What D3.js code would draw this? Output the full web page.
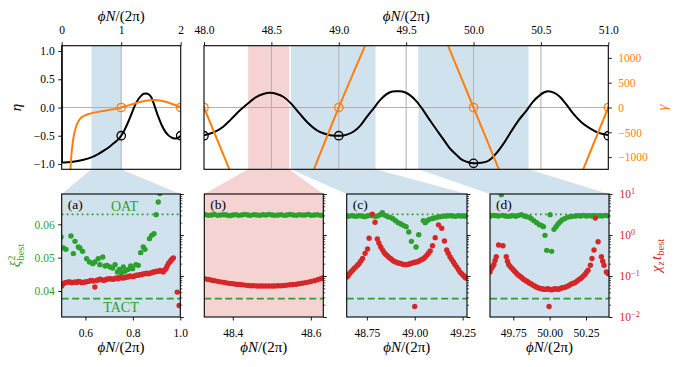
<!DOCTYPE html>
<html>
<head>
<meta charset="utf-8">
<script src="https://cdn.jsdelivr.net/npm/d3@7"></script>
<style>
  body { margin: 0; background: #fff; }
  svg { display: block; }
</style>
</head>
<body>
<div id="chart"></div>
<script>
/* ---------- data ---------- */
// upper row: eta (black) and gamma (orange) against phi N / (2 pi)
let etaLeft = [[0, 1.15], [0.004, -0.97], [0.02, -0.975], [0.1, -0.97], [0.218, -0.955], [0.35, -0.93],
    [0.498, -0.885], [0.62, -0.82], [0.72, -0.756], [0.81, -0.69], [0.89, -0.62], [0.95, -0.565],
    [1.0, -0.50], [1.06, -0.39], [1.114, -0.266], [1.17, -0.12], [1.227, 0.03], [1.29, 0.15],
    [1.338, 0.21], [1.38, 0.245], [1.422, 0.25], [1.46, 0.235], [1.506, 0.18], [1.56, 0.03],
    [1.618, -0.15], [1.68, -0.31], [1.73, -0.41], [1.79, -0.49], [1.842, -0.53], [1.9, -0.55],
    [1.95, -0.54], [2.0, -0.50]];
let gammaLeft = [[0.14, -1400], [0.16, -1000], [0.19, -670], [0.22, -480], [0.246, -369], [0.29, -260],
    [0.33, -201], [0.39, -160], [0.442, -135], [0.52, -108], [0.61, -88], [0.70, -70], [0.778, -54],
    [0.9, -28], [1.0, 0], [1.12, 42], [1.227, 80], [1.31, 110], [1.395, 133], [1.48, 147], [1.563, 153],
    [1.65, 142], [1.73, 120], [1.8, 95], [1.87, 66], [1.93, 38], [2.0, 0]];
let etaRight = [[48.0, -0.49], [48.07, -0.44], [48.143, -0.34], [48.2, -0.21], [48.267, -0.05], [48.33, 0.08],
    [48.39, 0.19], [48.44, 0.24], [48.49, 0.26], [48.54, 0.24], [48.588, 0.19], [48.65, 0.06],
    [48.71, -0.11], [48.77, -0.27], [48.835, -0.40], [48.89, -0.46], [48.935, -0.49], [49.01, -0.50],
    [49.06, -0.48], [49.108, -0.43], [49.16, -0.32], [49.207, -0.17], [49.26, -0.01], [49.306, 0.13],
    [49.345, 0.22], [49.38, 0.27], [49.42, 0.29], [49.454, 0.29], [49.49, 0.27], [49.528, 0.22],
    [49.58, 0.10], [49.627, -0.05], [49.68, -0.24], [49.739, -0.44], [49.775, -0.56], [49.83, -0.74],
    [49.874, -0.84], [49.91, -0.92], [49.949, -0.96], [50.003, -0.99], [50.05, -0.98], [50.097, -0.96],
    [50.135, -0.9], [50.17, -0.81], [50.22, -0.65], [50.27, -0.46], [50.33, -0.24], [50.394, -0.05],
    [50.44, 0.1], [50.493, 0.22], [50.525, 0.27], [50.555, 0.29], [50.6, 0.26], [50.64, 0.19],
    [50.69, 0.05], [50.74, -0.11], [50.8, -0.26], [50.864, -0.37], [50.92, -0.44], [50.962, -0.47],
    [51.0, -0.49]];
let gammaRight = [
    [[47.81, 1245], [48.0, 0], [48.188, -1245]],
    [[48.816, -1245], [49.0, 0], [49.194, 1237]],
    [[49.812, 1237], [50.0, 0], [50.188, -1245]],
    [[50.814, -1245], [51.0, 0], [51.19, 1245]]
];
let etaMarksLeft = [[1, -0.5], [2, -0.5]];
let etaMarksRight = [[48, -0.5], [49, -0.5], [50, -0.99], [51, -0.5]];
let gammaMarksLeft = [[1, 0], [2, 0]];
let gammaMarksRight = [[48, 0], [49, 0], [50, 0], [51, 0]];

// zoom windows of the lower row
let zoomA = [0.5, 1.0];
let zoomB = [48.327, 48.632];
let zoomC = [48.645, 49.273];
let zoomD = [49.59, 50.408];

// reference levels of xi^2
let xiOAT = 0.063;
let xiTACT = 0.0377;

// (a)
let aGreen = [[0.497, 0.0562], [0.507, 0.0529], [0.518, 0.0525], [0.539, 0.0565], [0.549, 0.0512], [0.556, 0.0549],
    [0.570, 0.0532], [0.577, 0.0529], [0.588, 0.0519], [0.605, 0.0497], [0.617, 0.0487], [0.631, 0.0482],
    [0.640, 0.0487], [0.654, 0.0497], [0.661, 0.0479], [0.673, 0.0502], [0.683, 0.0475], [0.692, 0.0477],
    [0.704, 0.0472], [0.715, 0.0469], [0.725, 0.0479], [0.735, 0.0457], [0.743, 0.0465], [0.753, 0.0455],
    [0.760, 0.0472], [0.767, 0.0459], [0.781, 0.0465], [0.791, 0.0475], [0.799, 0.0467], [0.813, 0.0479],
    [0.823, 0.0477], [0.833, 0.0515], [0.844, 0.0532], [0.851, 0.0525], [0.870, 0.0557], [0.879, 0.0567],
    [0.889, 0.0572], [0.898, 0.0629], [0.907, 0.0667], [0.914, 0.0692]];
let aRed = [[0.500, 0.0569], [0.507, 0.0650], [0.514, 0.0687], [0.521, 0.0700], [0.528, 0.0713], [0.535, 0.0720],
    [0.542, 0.0687], [0.549, 0.0700], [0.556, 0.0713], [0.563, 0.0690], [0.570, 0.0741], [0.577, 0.0730],
    [0.584, 0.0687], [0.591, 0.0700], [0.598, 0.0713], [0.605, 0.0720], [0.612, 0.0741], [0.619, 0.0760],
    [0.626, 0.0783], [0.633, 0.0750], [0.640, 0.0537], [0.647, 0.0783], [0.654, 0.0800], [0.661, 0.0830],
    [0.668, 0.0810], [0.676, 0.0783], [0.683, 0.0800], [0.690, 0.0830], [0.697, 0.0850], [0.704, 0.0861],
    [0.711, 0.0840], [0.718, 0.0830], [0.725, 0.0870], [0.732, 0.0895], [0.739, 0.0860], [0.746, 0.0929],
    [0.753, 0.0910], [0.760, 0.0895], [0.767, 0.0920], [0.774, 0.0946], [0.781, 0.0950], [0.788, 0.1000],
    [0.795, 0.0980], [0.802, 0.0964], [0.809, 0.1010], [0.816, 0.104], [0.823, 0.1040], [0.830, 0.108],
    [0.837, 0.1090], [0.844, 0.112], [0.851, 0.1140], [0.858, 0.117], [0.865, 0.1130], [0.872, 0.117],
    [0.879, 0.1200], [0.886, 0.126], [0.893, 0.1260], [0.900, 0.131], [0.907, 0.1300], [0.914, 0.136],
    [0.921, 0.1320], [0.928, 0.126], [0.934, 0.1400], [0.940, 0.152], [0.945, 0.1750], [0.950, 0.201],
    [0.956, 0.2200], [0.961, 0.243], [0.966, 0.2600], [0.971, 0.277], [0.987, 0.0405], [0.995, 0.019]];

// (b)
let bPhi = [48.330, 48.338, 48.346, 48.353, 48.361, 48.369, 48.377, 48.384, 48.392, 48.400,
    48.408, 48.415, 48.423, 48.431, 48.439, 48.446, 48.454, 48.462, 48.470, 48.477,
    48.485, 48.493, 48.501, 48.508, 48.516, 48.524, 48.532, 48.539, 48.547, 48.555,
    48.563, 48.570, 48.578, 48.586, 48.594, 48.601, 48.609, 48.617, 48.625, 48.632];
let bGreenXi = [0.0629, 0.0627, 0.0628, 0.0630, 0.0627, 0.0628, 0.0629, 0.0628, 0.0626, 0.0628,
    0.0629, 0.0627, 0.0628, 0.0630, 0.0628, 0.0627, 0.0629, 0.0628, 0.0627, 0.0629,
    0.0628, 0.0630, 0.0628, 0.0627, 0.0628, 0.0629, 0.0627, 0.0628, 0.0630, 0.0628,
    0.0627, 0.0629, 0.0628, 0.0628, 0.0630, 0.0627, 0.0628, 0.0629, 0.0627, 0.0628];
let bRedChi = [0.085, 0.082, 0.079, 0.077, 0.074, 0.072, 0.070, 0.068, 0.066, 0.065,
    0.063, 0.062, 0.061, 0.060, 0.059, 0.058, 0.058, 0.057, 0.057, 0.057,
    0.057, 0.057, 0.057, 0.057, 0.058, 0.058, 0.059, 0.060, 0.061, 0.062,
    0.063, 0.065, 0.067, 0.069, 0.071, 0.074, 0.077, 0.081, 0.086, 0.091];

// (c)
let cGreen = [[48.647, 0.0625], [48.655, 0.0624], [48.669, 0.0626], [48.683, 0.0625], [48.697, 0.0624],
    [48.710, 0.0626], [48.724, 0.0625], [48.738, 0.0623], [48.752, 0.0625], [48.766, 0.0627],
    [48.779, 0.0626], [48.793, 0.0624], [48.807, 0.0625], [48.821, 0.0629], [48.831, 0.0635],
    [48.845, 0.0627], [48.859, 0.0623], [48.872, 0.0621], [48.886, 0.0617], [48.900, 0.0611],
    [48.914, 0.0605], [48.928, 0.0601], [48.941, 0.0597], [48.955, 0.0593], [48.969, 0.0577],
    [48.983, 0.0549], [49.007, 0.0532], [49.021, 0.0569], [49.045, 0.0611], [49.055, 0.0605],
    [49.066, 0.0611], [49.076, 0.0615], [49.090, 0.0617], [49.103, 0.0619], [49.117, 0.0621],
    [49.131, 0.0623], [49.145, 0.0624], [49.159, 0.0625], [49.172, 0.0625], [49.186, 0.0626],
    [49.200, 0.0625], [49.214, 0.0624], [49.228, 0.0626], [49.241, 0.0625], [49.255, 0.0625],
    [49.266, 0.0625]];
let cRed = [[48.647, 0.0946], [48.653, 0.103], [48.659, 0.114], [48.667, 0.125], [48.676, 0.138],
    [48.684, 0.152], [48.693, 0.167], [48.702, 0.184], [48.710, 0.202], [48.719, 0.232], [48.728, 0.267],
    [48.741, 0.355], [48.754, 0.454], [48.762, 0.83], [48.779, 3.23], [48.793, 2.05], [48.805, 0.80],
    [48.813, 0.64], [48.822, 0.518], [48.831, 0.44], [48.840, 0.376], [48.848, 0.34], [48.857, 0.311],
    [48.865, 0.285], [48.874, 0.267], [48.883, 0.245], [48.891, 0.230], [48.900, 0.220], [48.909, 0.213],
    [48.917, 0.206], [48.926, 0.201], [48.935, 0.195], [48.943, 0.19], [48.952, 0.189], [48.960, 0.19],
    [48.969, 0.194], [48.978, 0.201], [48.986, 0.206], [48.995, 0.213], [49.003, 0.216], [49.012, 0.221],
    [49.021, 0.23], [49.029, 0.243], [49.038, 0.254], [49.047, 0.267], [49.055, 0.29], [49.064, 0.323],
    [49.072, 0.36], [49.081, 0.406], [49.093, 0.548], [49.107, 0.861], [49.124, 1.77], [49.141, 1.46],
    [49.155, 0.713], [49.167, 0.429], [49.175, 0.36], [49.184, 0.294], [49.193, 0.255], [49.202, 0.221],
    [49.210, 0.192], [49.219, 0.167], [49.228, 0.145], [49.236, 0.126], [49.245, 0.114], [49.253, 0.104],
    [49.260, 0.096], [49.266, 0.0895], [49.000, 0.018]];

// (d)
let dGreen = [[49.594, 0.0625], [49.613, 0.0627], [49.631, 0.0626], [49.649, 0.0625], [49.668, 0.0689],
    [49.677, 0.0627], [49.695, 0.0625], [49.714, 0.0624], [49.732, 0.0625], [49.750, 0.0626],
    [49.769, 0.0624], [49.787, 0.0627], [49.805, 0.0629], [49.824, 0.0625], [49.842, 0.0623],
    [49.860, 0.0621], [49.874, 0.0617], [49.892, 0.0611], [49.911, 0.0605], [49.929, 0.0599],
    [49.943, 0.0597], [49.957, 0.0593], [49.968, 0.0567], [49.980, 0.0522], [50.003, 0.0629],
    [50.014, 0.0519], [50.030, 0.0585], [50.044, 0.0593], [50.058, 0.0601], [50.071, 0.0607],
    [50.085, 0.0613], [50.103, 0.0617], [50.122, 0.0621], [50.140, 0.0623], [50.158, 0.0624],
    [50.177, 0.0625], [50.195, 0.0626], [50.213, 0.0625], [50.232, 0.0627], [50.250, 0.0625],
    [50.268, 0.0626], [50.287, 0.0625], [50.305, 0.0627], [50.324, 0.0625], [50.342, 0.0626],
    [50.360, 0.0625], [50.379, 0.0627], [50.397, 0.0626]];
let dRed = [[49.590, 0.126], [49.599, 0.152], [49.608, 0.17], [49.617, 0.19], [49.625, 0.24], [49.633, 0.294],
    [49.649, 0.569], [49.679, 0.548], [49.702, 0.294], [49.710, 0.23], [49.718, 0.19], [49.728, 0.172],
    [49.737, 0.158], [49.748, 0.144], [49.759, 0.131], [49.770, 0.119], [49.782, 0.108], [49.793, 0.1],
    [49.805, 0.0929], [49.816, 0.086], [49.828, 0.080], [49.840, 0.0755], [49.851, 0.0713], [49.862, 0.067],
    [49.874, 0.0637], [49.885, 0.06], [49.897, 0.0569], [49.908, 0.054], [49.920, 0.0518], [49.931, 0.050],
    [49.943, 0.0489], [49.955, 0.048], [49.966, 0.0471], [49.977, 0.0475], [49.989, 0.0489], [50.000, 0.047],
    [50.012, 0.0462], [50.023, 0.047], [50.035, 0.0489], [50.046, 0.048], [50.058, 0.0471], [50.069, 0.049],
    [50.080, 0.0508], [50.092, 0.0515], [50.103, 0.0527], [50.115, 0.055], [50.126, 0.0569], [50.137, 0.06],
    [50.149, 0.0637], [50.160, 0.066], [50.172, 0.0687], [50.183, 0.073], [50.195, 0.0783], [50.206, 0.084],
    [50.218, 0.0895], [50.229, 0.098], [50.241, 0.108], [50.252, 0.122], [50.264, 0.138], [50.280, 0.183],
    [50.291, 0.267], [50.305, 0.429], [50.333, 0.687], [50.356, 0.294], [50.365, 0.23], [50.374, 0.183],
    [50.390, 0.126], [50.402, 0.114], [50.314, 2.58], [49.996, 0.018]];

/* ---------- styling ---------- */
const SERIF = "'Liberation Serif', 'DejaVu Serif', serif";
const ORANGE = "#ff7f0e", GREEN = "#2ca02c", RED = "#d62728";
const BLUE_FILL = "rgb(209, 226, 239)", RED_FILL = "rgb(246, 211, 211)";
const GRID = "#b0b0b0";

let topY0 = 45.7, topY1 = 169.3;
let botY0 = 194, botY1 = 317;

let svg = d3.select("#chart")
    .append("svg")
    .attr("width", 679)
    .attr("height", 367)
    .attr("font-family", SERIF);
let defs = svg.append("defs");

/* Shared scales */
let etaY = d3.scaleLinear().domain([-1.095, 1.095]).range([topY1, topY0]);
let gammaY = d3.scaleLinear().domain([-1245, 1245]).range([topY1, topY0]);
let xiY = d3.scaleLinear().domain([0.0322, 0.0691]).range([botY1, botY0]);
let chiY = d3.scaleLog().domain([1e-2, 1e1]).range([botY1, botY0]);

let xTopLeft = d3.scaleLinear().domain([0, 2]).range([61.7, 180.7]);
let xTopRight = d3.scaleLinear().domain([48, 51]).range([204, 608.3]);

let lowerPanels = [
    { id: "a", label: "(a)", domain: zoomA, x0: 61.7, x1: 180.3, top: xTopLeft, fill: BLUE_FILL,
      ticks: [0.6, 0.8, 1.0], fmt: ".1f", green: aGreen, red: aRed, xiAxis: true, chiLabels: false },
    { id: "b", label: "(b)", domain: zoomB, x0: 204.3, x1: 323.3, top: xTopRight, fill: RED_FILL,
      ticks: [48.4, 48.6], fmt: ".1f", green: d3.zip(bPhi, bGreenXi), red: d3.zip(bPhi, bRedChi), xiAxis: false, chiLabels: false },
    { id: "c", label: "(c)", domain: zoomC, x0: 346.7, x1: 467, top: xTopRight, fill: BLUE_FILL,
      ticks: [48.75, 49.0, 49.25], fmt: ".2f", green: cGreen, red: cRed, xiAxis: false, chiLabels: false },
    { id: "d", label: "(d)", domain: zoomD, x0: 490, x1: 609, top: xTopRight, fill: BLUE_FILL,
      ticks: [49.75, 50.0, 50.25], fmt: ".2f", green: dGreen, red: dRed, xiAxis: false, chiLabels: true }
];

function styleAxis(g, color) {
    g.attr("font-family", SERIF).attr("font-size", 11.5);
    g.select(".domain").remove();
    g.selectAll(".tick line").attr("stroke", "#000").attr("stroke-width", 0.9);
    g.selectAll(".tick text").attr("fill", color);
}

function addClip(id, x0, x1, y0, y1) {
    defs.append("clipPath").attr("id", id)
        .append("rect")
        .attr("x", x0).attr("y", y0)
        .attr("width", x1 - x0).attr("height", y1 - y0);
    return `url(#${id})`;
}

function phiLabel(sel, x, y) {
    let t = sel.append("text")
        .attr("x", x).attr("y", y)
        .attr("text-anchor", "middle")
        .attr("font-size", 15)
        .attr("fill", "#000");
    t.append("tspan").attr("font-style", "italic").text("ϕN");
    t.append("tspan").text("/(2π)");
}

/* ---------- connectors between zoom windows ---------- */
svg.append("g")
    .selectAll("polygon")
    .data(lowerPanels)
    .enter()
    .append("polygon")
    .attr("points", d => [
        [d.top(d.domain[0]), topY1], [d.top(d.domain[1]), topY1],
        [d.x1, botY0], [d.x0, botY0]].join(" "))
    .attr("fill", d => d.fill);

/* ---------- upper row ---------- */
function drawTopPanel(p) {
    let x = p.x;
    let [x0, x1] = x.range();
    let g = svg.append("g");
    let inner = g.append("g").attr("clip-path", addClip("clip-" + p.id, x0, x1, topY0, topY1));

    inner.append("rect")
        .attr("x", x0).attr("y", topY0)
        .attr("width", x1 - x0).attr("height", topY1 - topY0)
        .attr("fill", "#fff");

    inner.selectAll(".band")
        .data(p.bands)
        .enter()
        .append("rect")
        .attr("x", d => x(d.domain[0]))
        .attr("width", d => x(d.domain[1]) - x(d.domain[0]))
        .attr("y", topY0)
        .attr("height", topY1 - topY0)
        .attr("fill", d => d.fill);

    inner.selectAll(".vgrid")
        .data(p.grid)
        .enter()
        .append("line")
        .attr("x1", d => x(d)).attr("x2", d => x(d))
        .attr("y1", topY0).attr("y2", topY1)
        .attr("stroke", GRID).attr("stroke-width", 1);
    inner.append("line")
        .attr("x1", x0).attr("x2", x1)
        .attr("y1", etaY(0)).attr("y2", etaY(0))
        .attr("stroke", GRID).attr("stroke-width", 1);

    let etaLine = d3.line()
        .x(d => x(d[0]))
        .y(d => etaY(d[1]))
        .curve(d3.curveMonotoneX);
    let gammaLine = d3.line()
        .x(d => x(d[0]))
        .y(d => gammaY(d[1]))
        .curve(d3.curveMonotoneX);

    inner.append("path")
        .datum(p.eta)
        .attr("d", etaLine)
        .attr("fill", "none")
        .attr("stroke", "#000")
        .attr("stroke-width", 2);
    inner.selectAll(".etaMark")
        .data(p.etaMarks)
        .enter()
        .append("circle")
        .attr("cx", d => x(d[0])).attr("cy", d => etaY(d[1]))
        .attr("r", 4.2)
        .attr("fill", "none").attr("stroke", "#000").attr("stroke-width", 1.3);

    inner.selectAll(".gammaPath")
        .data(p.gamma)
        .enter()
        .append("path")
        .attr("d", gammaLine)
        .attr("fill", "none")
        .attr("stroke", ORANGE)
        .attr("stroke-width", 2);
    inner.selectAll(".gammaMark")
        .data(p.gammaMarks)
        .enter()
        .append("circle")
        .attr("cx", d => x(d[0])).attr("cy", d => gammaY(d[1]))
        .attr("r", 4.2)
        .attr("fill", "none").attr("stroke", ORANGE).attr("stroke-width", 1.3);

    g.append("rect")
        .attr("x", x0).attr("y", topY0)
        .attr("width", x1 - x0).attr("height", topY1 - topY0)
        .attr("fill", "none").attr("stroke", "#000").attr("stroke-width", 1.1);

    let top = g.append("g")
        .attr("transform", `translate(0, ${topY0})`)
        .call(d3.axisTop(x).tickValues(p.ticks).tickFormat(d3.format(p.fmt)).tickSize(3.5));
    styleAxis(top, "#000");
    top.selectAll(".tick text").attr("y", -11.4).attr("dy", null);

    phiLabel(g, (x0 + x1) / 2, 20.5);

    if (p.etaAxis) {
        let left = g.append("g")
            .attr("transform", `translate(${x0}, 0)`)
            .call(d3.axisLeft(etaY).tickValues([-1, -0.5, 0, 0.5, 1]).tickFormat(d3.format(".1f")).tickSize(3.5).tickPadding(3.5));
        styleAxis(left, "#000");
        g.append("text")
            .attr("transform", `translate(21, ${(topY0 + topY1) / 2}) rotate(-90)`)
            .attr("text-anchor", "middle")
            .attr("font-size", 15)
            .attr("font-style", "italic")
            .text("η");
    }
    if (p.gammaAxis) {
        let right = g.append("g")
            .attr("transform", `translate(${x1}, 0)`)
            .call(d3.axisRight(gammaY).tickValues([-1000, -500, 0, 500, 1000]).tickFormat(d3.format("d")).tickSize(3.5).tickPadding(6.5));
        styleAxis(right, ORANGE);
        g.append("text")
            .attr("transform", `translate(667, ${(topY0 + topY1) / 2}) rotate(-90)`)
            .attr("text-anchor", "middle")
            .attr("font-size", 15)
            .attr("font-style", "italic")
            .attr("fill", ORANGE)
            .text("γ");
    }
}

drawTopPanel({
    id: "tl", x: xTopLeft, ticks: [0, 1, 2], fmt: "d", grid: [1],
    bands: lowerPanels.filter(d => d.top === xTopLeft),
    eta: etaLeft, etaMarks: etaMarksLeft,
    gamma: [gammaLeft], gammaMarks: gammaMarksLeft,
    etaAxis: true, gammaAxis: false
});
drawTopPanel({
    id: "tr", x: xTopRight, ticks: [48, 48.5, 49, 49.5, 50, 50.5, 51], fmt: ".1f",
    grid: [48.5, 49, 49.5, 50, 50.5],
    bands: lowerPanels.filter(d => d.top === xTopRight),
    eta: etaRight, etaMarks: etaMarksRight,
    gamma: gammaRight, gammaMarks: gammaMarksRight,
    etaAxis: false, gammaAxis: true
});

/* ---------- lower row ---------- */
function drawLowerPanel(p) {
    let x = d3.scaleLinear().domain(p.domain).range([p.x0, p.x1]);
    let g = svg.append("g");
    let inner = g.append("g").attr("clip-path", addClip("clip-" + p.id, p.x0, p.x1, botY0, botY1));

    inner.append("rect")
        .attr("x", p.x0).attr("y", botY0)
        .attr("width", p.x1 - p.x0).attr("height", botY1 - botY0)
        .attr("fill", p.fill);

    inner.append("line")
        .attr("x1", p.x0).attr("x2", p.x1)
        .attr("y1", xiY(xiOAT)).attr("y2", xiY(xiOAT))
        .attr("stroke", GREEN).attr("stroke-width", 1.8)
        .attr("stroke-dasharray", "1.8,3.2");
    inner.append("line")
        .attr("x1", p.x0).attr("x2", p.x1)
        .attr("y1", xiY(xiTACT)).attr("y2", xiY(xiTACT))
        .attr("stroke", GREEN).attr("stroke-width", 1.8)
        .attr("stroke-dasharray", "7,3.5");

    inner.selectAll(".green")
        .data(p.green)
        .enter()
        .append("circle")
        .attr("cx", d => x(d[0])).attr("cy", d => xiY(d[1]))
        .attr("r", 2.7)
        .attr("fill", GREEN);
    inner.selectAll(".red")
        .data(p.red)
        .enter()
        .append("circle")
        .attr("cx", d => x(d[0])).attr("cy", d => chiY(d[1]))
        .attr("r", 2.7)
        .attr("fill", RED);

    g.append("rect")
        .attr("x", p.x0).attr("y", botY0)
        .attr("width", p.x1 - p.x0).attr("height", botY1 - botY0)
        .attr("fill", "none").attr("stroke", "#000").attr("stroke-width", 1.1);

    let bottom = g.append("g")
        .attr("transform", `translate(0, ${botY1})`)
        .call(d3.axisBottom(x).tickValues(p.ticks).tickFormat(d3.format(p.fmt)).tickSize(3.5));
    styleAxis(bottom, "#000");
    bottom.selectAll(".tick text").attr("y", 19.7).attr("dy", null);

    phiLabel(g, (p.x0 + p.x1) / 2, 352);

    /* log axis for chi_z t on the right */
    let powers = [1e-2, 1e-1, 1e0, 1e1];
    let minor = chiY.ticks().filter(v => !powers.some(q => Math.abs(v - q) < q * 1e-6));
    let rightMinor = g.append("g")
        .attr("transform", `translate(${p.x1}, 0)`)
        .call(d3.axisRight(chiY).tickValues(minor).tickFormat("").tickSize(2));
    styleAxis(rightMinor, RED);
    rightMinor.selectAll(".tick line").attr("stroke-width", 0.7);
    let rightMajor = g.append("g")
        .attr("transform", `translate(${p.x1}, 0)`)
        .call(d3.axisRight(chiY).tickValues(powers).tickFormat("").tickSize(3.5).tickPadding(7));
    styleAxis(rightMajor, RED);
    if (p.chiLabels) {
        rightMajor.selectAll(".tick text")
            .each(function (d) {
                let t = d3.select(this);
                t.append("tspan").text("10");
                t.append("tspan")
                    .attr("dy", "-0.5em")
                    .attr("font-size", "0.72em")
                    .text(d3.format("d")(Math.round(Math.log10(d))));
            });
        let lab = g.append("text")
            .attr("transform", `translate(661, ${(botY0 + botY1) / 2}) rotate(-90)`)
            .attr("text-anchor", "middle")
            .attr("font-size", 15)
            .attr("fill", RED);
        lab.append("tspan").attr("font-style", "italic").text("χ");
        lab.append("tspan").attr("font-style", "italic").attr("font-size", 10.5).attr("dy", 3).text("z");
        lab.append("tspan").attr("font-style", "italic").attr("dy", -3).attr("dx", 1.5).text("t");
        lab.append("tspan").attr("font-size", 10.5).attr("dy", 3).text("best");
    }

    if (p.xiAxis) {
        let left = g.append("g")
            .attr("transform", `translate(${p.x0}, 0)`)
            .call(d3.axisLeft(xiY).tickValues([0.04, 0.05, 0.06]).tickFormat(d3.format(".2f")).tickSize(3.5).tickPadding(3.5));
        styleAxis(left, GREEN);
        let lab = g.append("text")
            .attr("transform", `translate(20, ${(botY0 + botY1) / 2}) rotate(-90)`)
            .attr("text-anchor", "middle")
            .attr("font-size", 15)
            .attr("fill", GREEN);
        lab.append("tspan").attr("font-style", "italic").text("ξ");
        lab.append("tspan").attr("font-size", 10.5).attr("dy", -5).text("2");
        lab.append("tspan").attr("font-size", 10.5).attr("dx", -5).attr("dy", 9).text("best");

        g.append("text")
            .attr("x", x(0.765)).attr("y", xiY(xiOAT) - 3)
            .attr("text-anchor", "middle")
            .attr("font-size", 14)
            .attr("fill", GREEN)
            .text("OAT");
        g.append("text")
            .attr("x", x(0.75)).attr("y", xiY(xiTACT) + 13.5)
            .attr("text-anchor", "middle")
            .attr("font-size", 14)
            .attr("fill", GREEN)
            .text("TACT");
    }

    g.append("text")
        .attr("x", p.x0 + 6)
        .attr("y", botY0 + 15)
        .attr("font-size", 13.5)
        .attr("fill", "#000")
        .text(p.label);
}

lowerPanels.forEach(drawLowerPanel);
</script>
</body>
</html>
